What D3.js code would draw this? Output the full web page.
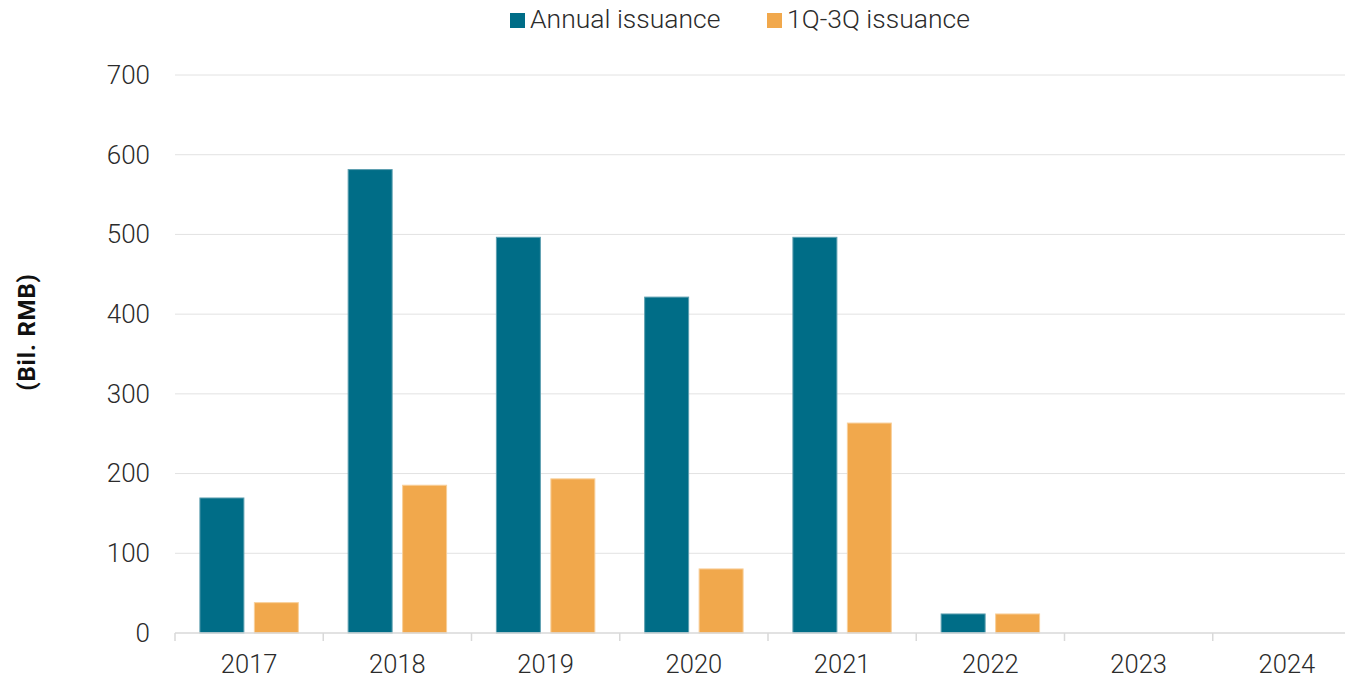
<!DOCTYPE html>
<html>
<head>
<meta charset="utf-8">
<script src="https://cdn.jsdelivr.net/npm/d3@7"></script>
<style>
  html, body { margin: 0; padding: 0; background: #fff; }
  svg { display: block; font-family: Roboto, "Liberation Sans", sans-serif; }
</style>
</head>
<body>
<svg id="chart" width="1345" height="678"></svg>
<script>
// Issuance by year, billions of RMB
const years = ["2017", "2018", "2019", "2020", "2021", "2022", "2023", "2024"];
const annualIssuance = [170, 582, 497, 422, 497, 24.5, 0, 0];
const q1q3Issuance = [38.7, 186, 194, 81, 264, 24.5, 0, 0];
const seriesNames = ["Annual issuance", "1Q-3Q issuance"];
const seriesColors = ["#006d87", "#f1a84c"];
const yTicks = [0, 100, 200, 300, 400, 500, 600, 700];

const svg = d3.select("#chart");
const margin = { left: 175, right: -16, top: 75, bottom: 45 };
const W = 1345, H = 678;
const FONT = "Roboto, sans-serif";

const x = d3.scaleBand().domain(years).range([margin.left, W - margin.right]).paddingInner(0).paddingOuter(0);
const sub = d3.scaleBand().domain(seriesNames).range([0, x.bandwidth()]).paddingInner(0.174).paddingOuter(0.448);
const y = d3.scaleLinear().domain([0, 700]).range([H - margin.bottom, margin.top]);

// gridlines
svg.append("g")
  .selectAll("line")
  .data(yTicks.filter(d => d > 0))
  .join("line")
  .attr("x1", margin.left).attr("x2", W)
  .attr("y1", d => y(d)).attr("y2", d => y(d))
  .attr("stroke", "#e2e2e2").attr("stroke-width", 1);

// y axis labels
const yAxis = svg.append("g")
  .attr("transform", `translate(${margin.left},0)`)
  .call(d3.axisLeft(y).tickValues(yTicks).tickSize(0).tickPadding(25));
yAxis.select(".domain").remove();
yAxis.selectAll("text")
  .attr("font-size", 26).attr("fill", "#2b2b2b")
  .attr("font-family", FONT).attr("font-weight", 300);

// bars
const rows = years.map((yr, i) => ({ yr, vals: [annualIssuance[i], q1q3Issuance[i]] }));
const groups = svg.append("g").selectAll("g")
  .data(rows).join("g")
  .attr("transform", d => `translate(${x(d.yr)},0)`);
groups.selectAll("rect")
  .data(d => d.vals.map((v, j) => ({ v, name: seriesNames[j], j })).filter(d => d.v > 0))
  .join("rect")
  .attr("x", d => sub(d.name) + 0.5)
  .attr("width", sub.bandwidth() - 1)
  .attr("y", d => y(d.v) + 0.5)
  .attr("height", d => y(0) - y(d.v) - 0.5)
  .attr("fill", d => seriesColors[d.j])
  .attr("stroke", d => d.j === 0 ? "#5d9fb0" : "#f8cf9a")
  .attr("stroke-width", 1);

// x axis
const xAxis = svg.append("g")
  .attr("transform", `translate(0,${y(0)})`)
  .call(d3.axisBottom(x).tickSize(0).tickPadding(21.5));
xAxis.select(".domain").attr("stroke", "#d9d9d9").attr("stroke-width", 1.5)
  .attr("d", `M${margin.left},0H${W}`);
xAxis.selectAll("text")
  .attr("font-size", 25.5).attr("fill", "#2b2b2b")
  .attr("font-family", FONT).attr("font-weight", 300);
// category separators
svg.append("g").selectAll("line")
  .data(years.map(yr => x(yr)))
  .join("line")
  .attr("x1", d => d).attr("x2", d => d)
  .attr("y1", y(0)).attr("y2", y(0) + 8)
  .attr("stroke", "#d9d9d9").attr("stroke-width", 1.5);

// y axis title
svg.append("text")
  .attr("transform", `translate(35,332) rotate(-90)`)
  .attr("text-anchor", "middle")
  .attr("font-size", 24).attr("font-weight", 700)
  .attr("letter-spacing", 0.8)
  .attr("font-family", FONT)
  .attr("fill", "#111")
  .text("(Bil. RMB)");

// legend
const legendX = [510, 767];
const legend = svg.append("g").selectAll("g")
  .data(seriesNames).join("g")
  .attr("transform", (d, i) => `translate(${legendX[i]},0)`);
legend.append("rect")
  .attr("x", 0).attr("y", 13).attr("width", 15).attr("height", 15)
  .attr("fill", (d, i) => seriesColors[i]);
legend.append("text")
  .attr("x", 20).attr("y", 28)
  .attr("font-size", 26.5).attr("font-weight", 300)
  .attr("font-family", FONT)
  .attr("fill", "#2b2b2b")
  .text(d => d);
</script>
</body>
</html>
